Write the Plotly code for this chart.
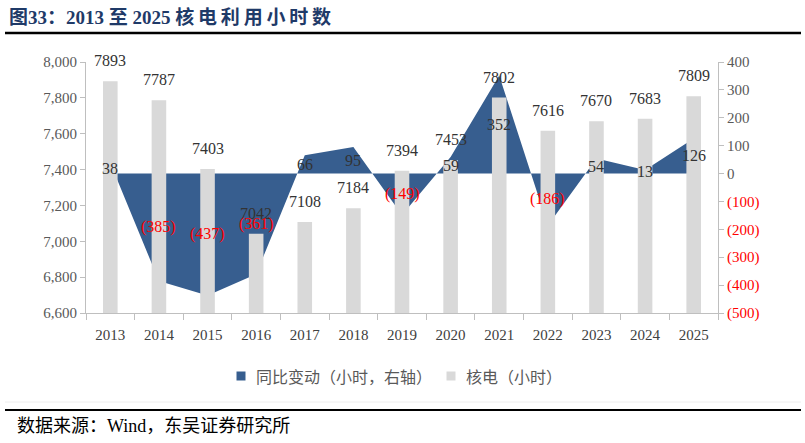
import plotly.graph_objects as go

years = ["2013", "2014", "2015", "2016", "2017", "2018", "2019", "2020", "2021", "2022", "2023", "2024", "2025"]
hours = [7893, 7787, 7403, 7042, 7108, 7184, 7394, 7453, 7802, 7616, 7670, 7683, 7809]
yoy = [38, -385, -437, -361, 66, 95, -149, 59, 352, -186, 54, 13, 126]

left_ticks = [6600, 6800, 7000, 7200, 7400, 7600, 7800, 8000]
right_ticks = [-500, -400, -300, -200, -100, 0, 100, 200, 300, 400]

name_yoy = "同比变动（小时，右轴）"
name_hours = "核电（小时）"

BLUE = "#375E8F"
GRAY = "#D9D9D9"
SERIF = "Liberation Serif, Times New Roman, serif"
CJK = "Noto Sans CJK SC, sans-serif"

W, H = 805, 443
ml, mr, mt, mb = 86, 87, 62, 130
pw, ph = W - ml - mr, H - mt - mb

def px(x):
    return (x - ml) / pw

def py(y):
    return (H - mb - y) / ph

def fmt_change(v):
    return f"({abs(v)})" if v < 0 else f"{v}"

def fmt_tick(v):
    if v < 0:
        return f'<span style="color:#FF0000">({abs(v)})</span>'
    return f"{v}"

fig = go.Figure()

# area (yoy change) on primary axis, right side
fig.add_trace(go.Scatter(
    x=years, y=yoy, mode="lines", line=dict(color=BLUE, width=0),
    fill="tozeroy", fillcolor=BLUE, showlegend=False, hoverinfo="skip",
    name=name_yoy, xaxis="x", yaxis="y"))

# bars on overlaying axis, left side (drawn above area)
fig.add_trace(go.Bar(
    x=years, y=hours, marker=dict(color=GRAY, line=dict(width=0)), width=0.3,
    showlegend=False, name=name_hours, xaxis="x", yaxis="y2"))

anns = []
for i, h in enumerate(hours):
    anns.append(dict(x=i, y=h, xref="x", yref="y2", text=str(h),
                     showarrow=False, yanchor="bottom", yshift=10,
                     font=dict(family=SERIF, size=16, color="#333333")))
for i, v in enumerate(yoy):
    anns.append(dict(x=i, y=v / 2, xref="x", yref="y", text=fmt_change(v),
                     showarrow=False, yanchor="middle",
                     font=dict(family=SERIF, size=16,
                               color="#FF0000" if v < 0 else "#333333")))

title = "图33：2013 至 2025 " + "\u2009".join("核电利用小时数")
anns.append(dict(x=px(7), y=py(17), xref="paper", yref="paper", xanchor="left", yanchor="middle",
                 text=f"<b>{title}</b>", showarrow=False,
                 font=dict(family="Liberation Serif, Noto Sans CJK SC", size=19, color="#1F3A68")))
footer = "数据来源：Wind，东吴证券研究所"
anns.append(dict(x=px(15), y=py(426), xref="paper", yref="paper", xanchor="left", yanchor="middle",
                 text=footer, showarrow=False,
                 font=dict(family="Liberation Serif, Noto Sans CJK SC", size=18, color="#000000")))

# manual legend
legend_items = [(name_yoy, BLUE, 241), (name_hours, GRAY, 451)]
shapes = []
for label, col, xc in legend_items:
    shapes.append(dict(type="rect", xref="paper", yref="paper",
                       x0=px(xc - 4.5), x1=px(xc + 4.5), y0=py(380.5), y1=py(371.5),
                       fillcolor=col, line=dict(width=0)))
    anns.append(dict(x=px(xc + 13), y=py(376), xref="paper", yref="paper", xanchor="left",
                     yanchor="middle", text=label, showarrow=False,
                     font=dict(family=CJK, size=16, color="#595959")))

shapes += [
    dict(type="line", xref="paper", yref="paper", x0=px(5), x1=px(801), y0=py(33), y1=py(33),
         line=dict(color="#000000", width=2.5)),
    dict(type="line", xref="paper", yref="paper", x0=px(5), x1=px(801), y0=py(402), y1=py(402),
         line=dict(color="#EEEEEE", width=1)),
    dict(type="line", xref="paper", yref="paper", x0=px(5), x1=px(801), y0=py(410), y1=py(410),
         line=dict(color="#000000", width=2)),
]

fig.update_layout(
    width=W, height=H, margin=dict(l=ml, r=mr, t=mt, b=mb),
    paper_bgcolor="white", plot_bgcolor="white", showlegend=False,
    annotations=anns, shapes=shapes,
    xaxis=dict(type="category", categoryorder="array", categoryarray=years,
               range=[-0.5, len(years) - 0.5], showgrid=False, showline=True,
               linecolor="#BFBFBF", linewidth=1,
               ticks="outside", tickson="boundaries", ticklen=6, tickcolor="#BFBFBF",
               ticklabelstandoff=8,
               tickfont=dict(family=SERIF, size=15, color="#404040"), zeroline=False),
    yaxis=dict(side="right", range=[-500, 400], tickvals=right_ticks,
               ticktext=[fmt_tick(v) for v in right_ticks], showgrid=False, zeroline=False,
               showline=True, linecolor="#BFBFBF", ticks="outside", ticklen=5, tickcolor="#BFBFBF",
               tickfont=dict(family=SERIF, size=15, color="#595959")),
    yaxis2=dict(side="left", overlaying="y", range=[6600, 8000], tickvals=left_ticks,
                tickformat=",", showgrid=False, zeroline=False, showline=True, linecolor="#BFBFBF",
                ticks="outside", ticklen=5, tickcolor="#BFBFBF",
                tickfont=dict(family=SERIF, size=15, color="#595959")),
    bargap=0.7,
)

fig.write_html("out.html")
